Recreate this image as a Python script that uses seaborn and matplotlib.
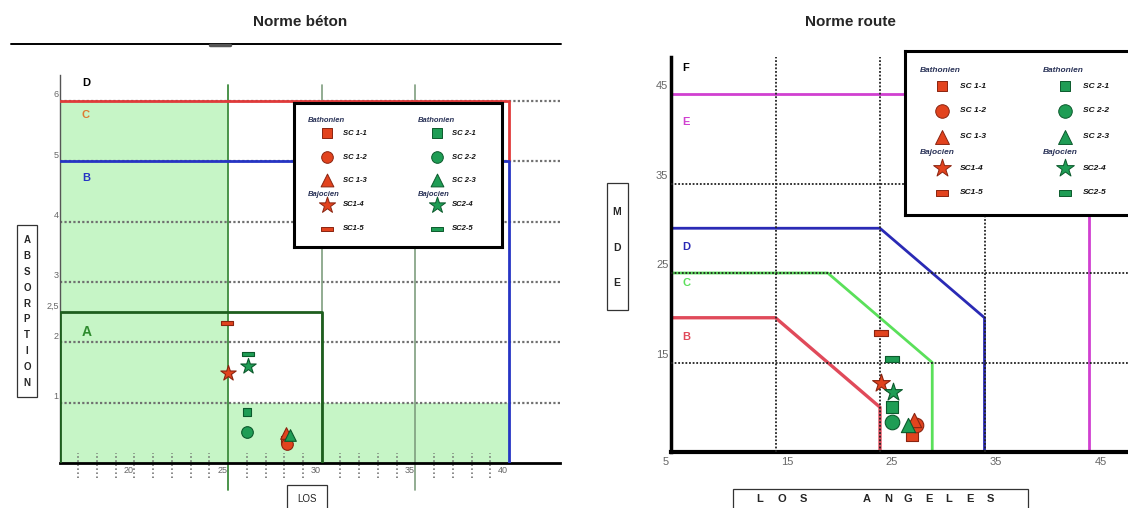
import numpy as np
import matplotlib
matplotlib.use('Agg')
import matplotlib.pyplot as plt
from matplotlib.path import Path
from matplotlib.patches import Rectangle
from matplotlib.lines import Line2D
import seaborn as sns

sns.set_style('white')
plt.rcParams['font.family'] = ['Liberation Sans', 'DejaVu Sans']

# ==========================
# Données
# ==========================
sc1_labels = ['SC 1-1', 'SC 1-2', 'SC 1-3', 'SC1-4', 'SC1-5']
sc2_labels = ['SC 2-1', 'SC 2-2', 'SC 2-3', 'SC2-4', 'SC2-5']
group_headers = ['Bathonien', 'Bajocien']

# Norme béton : LOS / absorption
beton_los_sc1 = [28.05, 28.15, 28.1, 24.98, 24.93]
beton_abs_sc1 = [0.38, 0.32, 0.50, 1.49, 2.32]
beton_los_sc2 = [26.0, 26.0, 28.3, 26.05, 26.05]
beton_abs_sc2 = [0.84, 0.52, 0.47, 1.60, 1.80]

# Norme route : LOS / MDE
route_los_sc1 = [28.1, 28.4, 28.3, 25.07, 25.07]
route_mde_sc1 = [6.9, 8.0, 8.6, 12.74, 18.26]
route_los_sc2 = [26.18, 26.18, 27.7, 26.28, 26.18]
route_mde_sc2 = [9.99, 8.39, 8.0, 11.74, 15.39]

# limites des zones (béton)
beton_zone_A_los = [16, 16, 30, 30]
beton_zone_A_abs = [0, 2.5, 2.5, 0]
beton_zone_B_los = [16, 40, 40]
beton_zone_B_abs = [5, 5, 0]
beton_zone_C_los = [16, 40, 40]
beton_zone_C_abs = [6, 6, 5]
beton_fill_los = [16, 25, 25, 40]
beton_fill_abs = [6, 6, 1, 1]
beton_hlines = [1, 2, 3, 4, 5, 6]
beton_xticks = [20, 25, 30, 35, 40]
beton_yticks = [1, 2, 2.5, 3, 4, 5, 6]
beton_ytick_labels = ['1', '2', '2,5', '3', '4', '5', '6']
beton_minor = [v for v in range(17, 40) if v not in (25, 30, 35)]

# limites des zones (route)
route_zone_B_los = [5, 15, 25, 25]
route_zone_B_mde = [20, 20, 10, 5]
route_zone_C_los = [5, 20, 30, 30]
route_zone_C_mde = [25, 25, 15, 5]
route_zone_D_los = [5, 25, 35, 35]
route_zone_D_mde = [30, 30, 20, 5]
route_zone_E_los = [5, 45, 45]
route_zone_E_mde = [45, 45, 5]
route_grid = [15, 25, 35]
route_xticks = [15, 25, 35, 45]
route_yticks = [15, 25, 35, 45]

# ==========================
# Styles
# ==========================
W, H = 1128, 508
red, red_edge = '#e2431e', '#8a2410'
green, green_edge = '#1f9d55', '#0b5a2c'
bar = Path([(-1, -0.42), (1, -0.42), (1, 0.42), (-1, 0.42), (-1, -0.42)], closed=True)
markers = ['s', 'o', '^', '*', bar]
beton_sizes = [40, 70, 70, 135, 65]
route_sizes = [65, 110, 105, 180, 90]
tick_col = '#666666'

fig = plt.figure(figsize=(W / 100, H / 100), dpi=100)
fig.patch.set_facecolor('white')


def fig_text(px, py, s, **kw):
    fig.text(px / W, 1 - py / H, s, **kw)


def fig_box(x0, y0, x1, y1):
    fig.add_artist(Rectangle((x0 / W, 1 - y1 / H), (x1 - x0) / W, (y1 - y0) / H,
                             transform=fig.transFigure, fill=False, ec='#333333', lw=0.9))


def draw_points(ax, xs, ys, face, edge, sizes):
    for x, y, m, s in zip(xs, ys, markers, sizes):
        sns.scatterplot(x=[x], y=[y], marker=m, s=s, color=face, edgecolor=edge,
                        linewidth=0.8, ax=ax, zorder=6, legend=False)


def draw_legend(box, cols, rows, head_y, sizes, fs):
    left, top, w, h = box
    lg = fig.add_axes([left / W, 1 - (top + h) / H, w / W, h / H])
    lg.set_xlim(0, w)
    lg.set_ylim(h, 0)
    lg.set_xticks([])
    lg.set_yticks([])
    lg.set_facecolor('white')
    for sp in lg.spines.values():
        sp.set_linewidth(2.2)
        sp.set_color('black')
    for (hx, mx, tx), names, face, edge in zip(cols, [sc1_labels, sc2_labels],
                                               [red, green], [red_edge, green_edge]):
        for hy, head in zip(head_y, group_headers):
            lg.text(hx, hy, head, fontsize=fs, fontweight='bold', style='italic',
                    color='#2a3358', va='center')
        for name, m, s, ry in zip(names, markers, sizes, rows):
            lg.scatter(mx, ry, marker=m, s=s, c=face, edgecolors=edge, linewidths=0.7)
            lg.text(tx, ry, name, fontsize=fs, fontweight='bold', style='italic',
                    color='#111111', va='center')


# ==========================
# Norme béton
# ==========================
ax1 = fig.add_axes([59.5 / W, 1 - 463 / H, (560 - 59.5) / W, (463 - 75) / H])
ax1.set_xlim(16, 16 + (560 - 59.5) / 18.73)
ax1.set_ylim(0, (463 - 75) / 60.33)
ax1.set_facecolor('none')
ax1.set_xticks([])
ax1.set_yticks([])
for s in ['top', 'right']:
    ax1.spines[s].set_visible(False)
ax1.spines['left'].set_color('#555555')
ax1.spines['left'].set_linewidth(1)
ax1.spines['bottom'].set_color('black')
ax1.spines['bottom'].set_linewidth(2)

ax1.fill_between(beton_fill_los, 0, beton_fill_abs, color='#c6f5c6', lw=0, zorder=0)
for v in beton_hlines:
    ax1.plot([16, 43], [v, v], color='#707070', ls=(0, (1, 1)), lw=1.6, zorder=1)
ax1.plot([25, 25], [-0.45, 6.27], color='#3d8b3d', lw=1.3, zorder=2, clip_on=False)
ax1.plot([30, 30], [0, 6.27], color='#7f9e7f', lw=1.2, zorder=1)
ax1.plot([35, 35], [-0.45, 6.27], color='#7f9e7f', lw=1.2, zorder=1, clip_on=False)
ax1.vlines(beton_minor, -0.25, 0.17, colors='#666666', linestyles=':', lw=1.1, clip_on=False)
ax1.plot(beton_zone_A_los, beton_zone_A_abs, color='#1e5e1e', lw=2, zorder=3)
ax1.plot(beton_zone_C_los, beton_zone_C_abs, color='#e03a3a', lw=2, zorder=3)
ax1.plot(beton_zone_B_los, beton_zone_B_abs, color='#2634c4', lw=2, zorder=3)

ax1.text(17.2, 6.3, 'D', fontsize=8, fontweight='bold', color='black', va='center')
ax1.text(17.2, 5.76, 'C', fontsize=8, fontweight='bold', color='#de7a30', va='center')
ax1.text(17.2, 4.72, 'B', fontsize=8, fontweight='bold', color='#2634c4', va='center')
ax1.text(17.2, 2.17, 'A', fontsize=10, fontweight='bold', color='#2e8b2e', va='center')

for v, lab in zip(beton_yticks, beton_ytick_labels):
    ax1.text(15.95, v + 0.1, lab, fontsize=6.5, color=tick_col, ha='right', va='center')
for v in beton_xticks:
    ax1.text(v - 0.05, -0.12, str(v), fontsize=6.5, color=tick_col, ha='right', va='center')

draw_points(ax1, beton_los_sc1, beton_abs_sc1, red, red_edge, beton_sizes)
draw_points(ax1, beton_los_sc2, beton_abs_sc2, green, green_edge, beton_sizes)

draw_legend((294, 103, 208, 144), [(14, 33, 49), (124, 143, 158)],
            [30, 54, 77, 102, 126], [17, 91], [45, 70, 85, 150, 65], 5.5)

# titre et axes
fig_text(300, 22, 'Norme béton', fontsize=11, fontweight='bold', ha='center', va='center')
fig.add_artist(Line2D([11 / W, 561 / W], [1 - 44 / H, 1 - 44 / H], color='black', lw=1.4))
fig.add_artist(Line2D([210 / W, 230 / W], [1 - 45 / H, 1 - 45 / H], color='#555555', lw=2.5))
fig_box(17, 225, 37, 397)
for i, ch in enumerate('ABSORPTION'):
    fig_text(27, 240 + i * 15.9, ch, fontsize=7, fontweight='bold', ha='center', va='center')
fig_box(287, 485, 327, 512)
fig_text(307, 499, 'LOS', fontsize=7, ha='center', va='center', color='#222222')

# ==========================
# Norme route
# ==========================
ax2 = fig.add_axes([671 / W, 1 - 452 / H, (1128 - 671) / W, (452 - 57) / H])
ax2.set_xlim(5, 5 + (1128 - 671) / 10.45)
ax2.set_ylim(5, 5 + (452 - 57) / 8.95)
ax2.set_facecolor('none')
ax2.set_xticks([])
ax2.set_yticks([])
for s in ['top', 'right']:
    ax2.spines[s].set_visible(False)
ax2.spines['left'].set_color('black')
ax2.spines['left'].set_linewidth(2.5)
ax2.spines['bottom'].set_color('black')
ax2.spines['bottom'].set_linewidth(3)

ax2.plot(route_zone_E_los, route_zone_E_mde, color='#d040d0', lw=2, zorder=2)
ax2.plot(route_zone_D_los, route_zone_D_mde, color='#2a2ab5', lw=2, zorder=2)
ax2.plot(route_zone_C_los, route_zone_C_mde, color='#5ae05a', lw=2, zorder=2)
ax2.plot(route_zone_B_los, route_zone_B_mde, color='#e04a5a', lw=2.4, zorder=2)
for v in route_grid:
    ax2.plot([v, v], [5, 50], color='#222222', ls=(0, (1, 1)), lw=1.3, zorder=3)
    ax2.plot([5, 49], [v, v], color='#222222', ls=(0, (1, 1)), lw=1.3, zorder=3)

ax2.text(6.1, 47.9, 'F', fontsize=8, fontweight='bold', color='black', va='center')
ax2.text(6.1, 41.9, 'E', fontsize=8, fontweight='bold', color='#d040d0', va='center')
ax2.text(6.1, 27.9, 'D', fontsize=8, fontweight='bold', color='#2a2ab5', va='center')
ax2.text(6.1, 23.9, 'C', fontsize=8, fontweight='bold', color='#5ae05a', va='center')
ax2.text(6.1, 17.8, 'B', fontsize=8, fontweight='bold', color='#e04a5a', va='center')

for v in route_yticks:
    ax2.text(4.75, v + 0.85, str(v), fontsize=8, color=tick_col, ha='right', va='center')
ax2.text(4.8, 3.9, '5', fontsize=8, color=tick_col, ha='right', va='center')
for v in route_xticks:
    ax2.text(v + 1.1, 3.85, str(v), fontsize=8, color=tick_col, ha='center', va='center')

draw_points(ax2, route_los_sc1, route_mde_sc1, red, red_edge, route_sizes)
draw_points(ax2, route_los_sc2, route_mde_sc2, green, green_edge, route_sizes)

draw_legend((905, 51, 227, 164), [(15, 37, 55), (138, 160, 178)],
            [35, 60, 86, 117, 142], [20, 102], [60, 95, 100, 180, 80], 6)

fig_text(850, 22, 'Norme route', fontsize=11, fontweight='bold', ha='center', va='center')
fig_box(607, 183, 628, 310)
for ch, py in zip('MDE', [212, 248, 283]):
    fig_text(617, py, ch, fontsize=7.5, fontweight='bold', ha='center', va='center')
fig_box(733, 489, 1028, 512)
los_letters = ['L', 'O', 'S', 'A', 'N', 'G', 'E', 'L', 'E', 'S']
los_letter_x = [760, 782, 803, 867, 888, 908, 929, 949, 970, 990]
for ch, px in zip(los_letters, los_letter_x):
    fig_text(px, 499, ch, fontsize=8, fontweight='bold', ha='center', va='center')

plt.savefig('out.png', dpi=100, facecolor='white')
plt.close()
